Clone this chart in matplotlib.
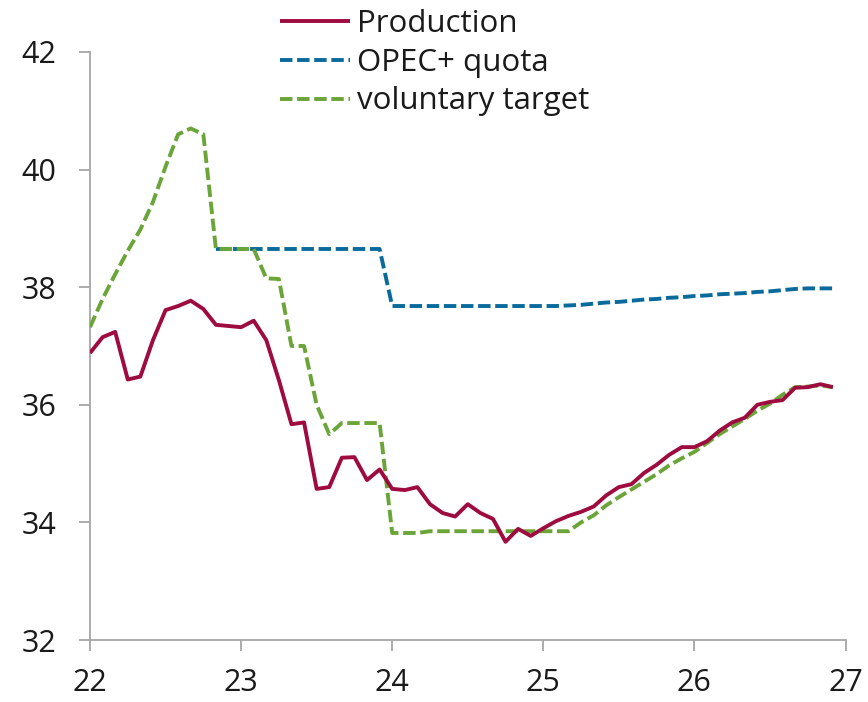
"""Production vs OPEC+ quota and voluntary target, monthly, 2022-2026."""

import matplotlib

matplotlib.use("Agg")
import matplotlib.pyplot as plt
import numpy as np

plt.rcParams["font.family"] = ["Open Sans", "DejaVu Sans"]

# monthly values from Jan 2022 to Dec 2026
production = [
    36.88, 37.15, 37.24, 36.43, 36.48, 37.10, 37.61, 37.68, 37.77, 37.63, 37.36, 37.34,
    37.32, 37.43, 37.10, 36.42, 35.67, 35.70, 34.57, 34.60, 35.10, 35.11, 34.72, 34.90,
    34.57, 34.55, 34.60, 34.31, 34.16, 34.10, 34.31, 34.16, 34.06, 33.67, 33.89, 33.77,
    33.90, 34.02, 34.11, 34.18, 34.27, 34.46, 34.60, 34.65, 34.84, 34.98, 35.15, 35.28,
    35.28, 35.38, 35.56, 35.70, 35.78, 36.00, 36.05, 36.08, 36.29, 36.30, 36.35, 36.30,
]
opec_quota = [
    np.nan, np.nan, np.nan, np.nan, np.nan, np.nan, np.nan, np.nan, np.nan, np.nan, 38.65, 38.65,
    38.65, 38.65, 38.65, 38.65, 38.65, 38.65, 38.65, 38.65, 38.65, 38.65, 38.65, 38.65,
    37.68, 37.68, 37.68, 37.68, 37.68, 37.68, 37.68, 37.68, 37.68, 37.68, 37.68, 37.68,
    37.68, 37.68, 37.69, 37.70, 37.72, 37.74, 37.75, 37.77, 37.79, 37.80, 37.82, 37.83,
    37.85, 37.86, 37.88, 37.89, 37.90, 37.92, 37.93, 37.95, 37.97, 37.98, 37.98, 37.98,
]
voluntary_target = [
    37.32, 37.80, 38.22, 38.62, 38.98, 39.45, 40.05, 40.60, 40.70, 40.60, 38.65, 38.65,
    38.65, 38.65, 38.15, 38.14, 37.00, 37.00, 36.00, 35.50, 35.69, 35.69, 35.69, 35.69,
    33.82, 33.82, 33.82, 33.85, 33.85, 33.85, 33.85, 33.85, 33.85, 33.85, 33.85, 33.85,
    33.85, 33.85, 33.85, 34.00, 34.12, 34.29, 34.43, 34.56, 34.69, 34.82, 34.97, 35.09,
    35.20, 35.35, 35.50, 35.63, 35.76, 35.90, 36.02, 36.17, 36.30, 36.31, 36.33, 36.30,
]
month_index = np.arange(len(production))
x_years = 22 + month_index / 12

x_ticks = [22, 23, 24, 25, 26, 27]
y_ticks = [32, 34, 36, 38, 40, 42]

RED = "#9E0B3F"
BLUE = "#0A6A9C"
GREEN = "#6BA539"
AXIS_GREY = "#A6A6A6"

fig = plt.figure(figsize=(8.68, 7.02), dpi=100)
ax = fig.add_axes([90 / 868, 62 / 702, (845.5 - 90) / 868, (640 - 52) / 702])

dash = (0, (3.2, 1.2))
ax.plot(x_years, production, color=RED, lw=2.8, solid_capstyle="butt", label="Production", zorder=4)
ax.plot(x_years, opec_quota, color=BLUE, lw=2.8, linestyle=dash, label="OPEC+ quota", zorder=2)
ax.plot(x_years, voluntary_target, color=GREEN, lw=2.8, linestyle=dash, label="voluntary target", zorder=3)

ax.set_xlim(22, 27)
ax.set_ylim(32, 42)
ax.set_xticks(x_ticks)
ax.set_yticks(y_ticks)
ax.set_xticklabels([str(t) for t in x_ticks])
ax.set_yticklabels([str(t) for t in y_ticks])

for side in ["top", "right"]:
    ax.spines[side].set_visible(False)
for side in ["left", "bottom"]:
    ax.spines[side].set_color(AXIS_GREY)
    ax.spines[side].set_linewidth(1.3)
ax.tick_params(axis="both", direction="out", length=8, width=1.3, color=AXIS_GREY,
               labelsize=22, labelcolor="#1a1a1a")
ax.tick_params(axis="y", pad=16)
ax.tick_params(axis="x", pad=12)

leg = ax.legend(
    loc="upper left",
    bbox_to_anchor=(280 / 868, 1 - 9 / 702),
    bbox_transform=fig.transFigure,
    frameon=False,
    fontsize=22.5,
    handlelength=2.25,
    handletextpad=0.22,
    labelspacing=0.28,
    borderpad=0,
    borderaxespad=0,
)
for text in leg.get_texts():
    text.set_color("#1a1a1a")

fig.savefig("out.png", dpi=100)
plt.close(fig)
